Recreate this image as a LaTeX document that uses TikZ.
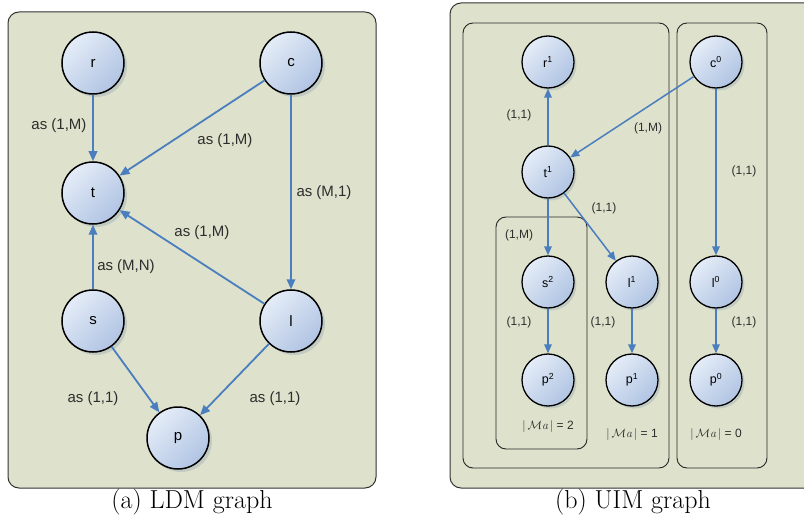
\documentclass[tikz,border=0pt]{standalone}
\usepackage{fontspec}
\newfontfamily\arial{Liberation Sans}
\usetikzlibrary{arrows.meta,shadows}
\definecolor{bg}{RGB}{222,226,204}
\definecolor{edgec}{RGB}{74,126,190}
\definecolor{nlight}{RGB}{228,236,247}
\definecolor{ndark}{RGB}{176,196,227}
\definecolor{shad}{RGB}{165,182,188}
\definecolor{txt}{RGB}{45,45,45}
\tikzset{
  panel/.style={draw=black!80, line width=1pt, fill=bg, rounded corners=11pt},
  inbox/.style={draw=black!85, line width=0.9pt, rounded corners=10pt},
  bignode/.style={circle, draw=black, line width=1.5pt, minimum size=62pt, inner sep=0pt,
    top color=nlight, bottom color=ndark, shading angle=45,
    font=\arial\fontsize{15}{18}\selectfont,
    drop shadow={shadow xshift=3pt, shadow yshift=-3pt, fill=shad, opacity=0.5}},
  smallnode/.style={circle, draw=black, line width=1.3pt, minimum size=52pt, inner sep=0pt,
    top color=nlight, bottom color=ndark, shading angle=45,
    font=\arial\fontsize{12.5}{15}\selectfont,
    drop shadow={shadow xshift=2.5pt, shadow yshift=-2.5pt, fill=shad, opacity=0.5}},
  bigedge/.style={draw=edgec, line width=1.8pt, -{Triangle[length=10pt,width=8.5pt]}},
  smalledge/.style={draw=edgec, line width=1.5pt, -{Triangle[length=9pt,width=7.5pt]}},
  lbl/.style={font=\arial\fontsize{15}{18}\selectfont, text=txt, inner sep=0pt},
  slbl/.style={font=\arial\fontsize{12}{14}\selectfont, text=txt, inner sep=0pt},
  captext/.style={font=\fontsize{26}{30}\selectfont, inner sep=0pt, anchor=base}
}
\begin{document}
\begin{tikzpicture}[x=1pt,y=-1pt]
\useasboundingbox (0,0) rectangle (804,516);
\begin{scope}
\clip (0,0) rectangle (804,516);
% panels
\draw[panel] (8,12) rectangle (376,488);
\draw[panel] (450,3) rectangle (830,488);
\draw[inbox] (463,23) rectangle (669,468);
\draw[inbox] (677,23) rectangle (767,468);
\draw[inbox] (496,217) rectangle (587,449);
\end{scope}

% left graph
\node[bignode] (r) at (93,63) {r};
\node[bignode] (c) at (291,63) {c};
\node[bignode] (t) at (93,193) {t};
\node[bignode] (s) at (93,321) {s};
\node[bignode] (l) at (291,321) {l};
\node[bignode] (p) at (178,438) {p};

\draw[bigedge] (r) -- (t);
\draw[bigedge] (c) -- (t);
\draw[bigedge] (c) -- (l);
\draw[bigedge] (l) -- (t);
\draw[bigedge] (s) -- (t);
\draw[bigedge] (s) -- (p);
\draw[bigedge] (l) -- (p);

\node[lbl] (lrt) at (59,126) {as (1,M)};
\node[lbl] (lct) at (225,141) {as (1,M)};
\node[lbl] (lcl) at (324,193) {as (M,1)};
\node[lbl] (llt) at (202,233) {as (1,M)};
\node[lbl] (lst) at (126,267) {as (M,N)};
\node[lbl] (lsp) at (93,399) {as (1,1)};
\node[lbl] (llp) at (275,399) {as (1,1)};

% right graph
\node[smallnode] (r1) at (548,62) {r\textsuperscript{1}};
\node[smallnode] (c0) at (716,62) {c\textsuperscript{0}};
\node[smallnode] (t1) at (548,172) {t\textsuperscript{1}};
\node[smallnode] (s2) at (548,282) {s\textsuperscript{2}};
\node[smallnode] (l1) at (632,282) {l\textsuperscript{1}};
\node[smallnode] (l0) at (716,282) {l\textsuperscript{0}};
\node[smallnode] (p2) at (548,380) {p\textsuperscript{2}};
\node[smallnode] (p1) at (632,380) {p\textsuperscript{1}};
\node[smallnode] (p0) at (716,380) {p\textsuperscript{0}};

\draw[smalledge] (t1) -- (r1);
\draw[smalledge] (c0) -- (t1);
\draw[smalledge] (c0) -- (l0);
\draw[smalledge] (t1) -- (s2);
\draw[smalledge] (t1) -- (l1);
\draw[smalledge] (s2) -- (p2);
\draw[smalledge] (l1) -- (p1);
\draw[smalledge] (l0) -- (p0);

\node[slbl] (e1) at (519,115) {(1,1)};
\node[slbl] (e2) at (648,128) {(1,M)};
\node[slbl] (e3) at (744,171) {(1,1)};
\node[slbl] (e4) at (519,235) {(1,M)};
\node[slbl] (e5) at (604,208) {(1,1)};
\node[slbl] (e6) at (519,322) {(1,1)};
\node[slbl] (e7) at (603,322) {(1,1)};
\node[slbl] (e8) at (744,322) {(1,1)};

\node[slbl] (m2) at (548,426) {$|\,\mathcal{M}\mathit{a}\,|$ = 2};
\node[slbl] (m1) at (632,434) {$|\,\mathcal{M}\mathit{a}\,|$ = 1};
\node[slbl] (m0) at (716,434) {$|\,\mathcal{M}\mathit{a}\,|$ = 0};

% captions
\node[captext] (ca) at (192,508) {(a) LDM graph};
\node[captext] (cb) at (633,508) {(b) UIM graph};
\end{tikzpicture}
\end{document}
